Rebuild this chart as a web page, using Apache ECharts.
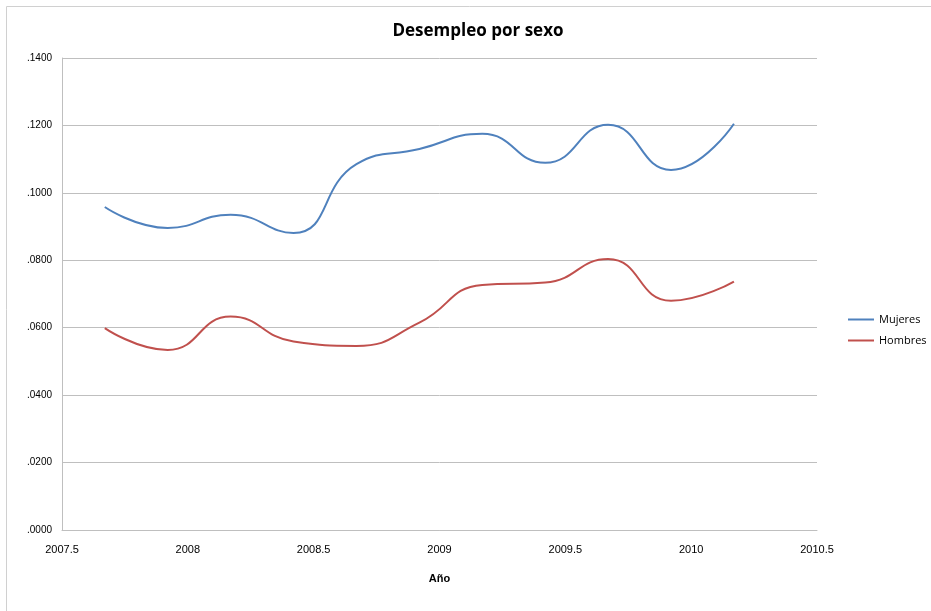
<!DOCTYPE html>
<html>
<head>
<meta charset="utf-8">
<script src="https://cdn.jsdelivr.net/npm/echarts@6/dist/echarts.min.js"></script>
<style>
  html, body { margin: 0; padding: 0; background: #fff; }
  #chart { width: 931px; height: 611px; }
</style>
</head>
<body>
<div id="chart"></div>
<script>
// periodos (año decimal, trimestral)
var anios = [2007.67, 2007.92, 2008.17, 2008.42, 2008.67, 2008.92, 2009.17, 2009.42, 2009.67, 2009.92, 2010.17];
var mujeres = [0.0958, 0.0896, 0.0935, 0.0881, 0.1085, 0.1130, 0.1175, 0.1089, 0.1202, 0.1068, 0.1205];
var hombres = [0.0599, 0.0534, 0.0633, 0.0559, 0.0546, 0.0615, 0.0727, 0.0734, 0.0804, 0.0680, 0.0737];

function pares(xs, ys) {
    var out = [];
    for (var i = 0; i < xs.length; i++) out.push([xs[i], ys[i]]);
    return out;
}

var chart = echarts.init(document.getElementById('chart'));
var fuente = 'Liberation Sans Narrow, Liberation Sans, Arial, sans-serif';

chart.setOption({
    animation: false,
    textStyle: { fontFamily: fuente },
    graphic: [{
        type: 'rect',
        shape: { x: 6.5, y: 6.5, width: 960, height: 640 },
        style: { fill: 'none', stroke: '#d0d0d0', lineWidth: 1 }
    }],
    title: {
        text: 'Desempleo por sexo',
        left: 473,
        top: 18,
        textAlign: 'center',
        textStyle: { fontFamily: 'Open Sans, sans-serif', fontSize: 17, fontWeight: 'bold', color: '#000' }
    },
    legend: {
        orient: 'vertical',
        left: 843,
        top: 309,
        itemWidth: 26,
        itemHeight: 2,
        itemGap: 10,
        icon: 'rect',
        textStyle: { fontSize: 11, color: '#000', fontFamily: 'Open Sans, sans-serif' },
        data: ['Mujeres', 'Hombres']
    },
    grid: { left: 62, right: 114, top: 58, bottom: 81 },
    xAxis: {
        type: 'value',
        min: 2007.5,
        max: 2010.5,
        interval: 0.5,
        name: 'Año',
        nameLocation: 'middle',
        nameGap: 43,
        nameTextStyle: { fontSize: 11, fontWeight: 'bold', color: '#000' },
        axisLine: { lineStyle: { color: '#bfbfbf' } },
        axisTick: { show: false },
        axisLabel: {
            fontSize: 11,
            color: '#000',
            margin: 14,
            formatter: function (v) { return String(v); }
        },
        splitLine: { show: false }
    },
    yAxis: {
        type: 'value',
        min: 0,
        max: 0.14,
        interval: 0.02,
        axisLine: { show: true, lineStyle: { color: '#bfbfbf' } },
        axisTick: { show: false },
        axisLabel: {
            fontSize: 10,
            color: '#000',
            margin: 10,
            formatter: function (v) { return v.toFixed(4).slice(1); }
        },
        splitLine: { lineStyle: { color: '#bfbfbf' } }
    },
    series: [{
        name: 'Mujeres',
        type: 'line',
        smooth: 0.5,
        showSymbol: false,
        symbol: 'none',
        lineStyle: { color: '#4f81bd', width: 2 },
        itemStyle: { color: '#4f81bd' },
        data: pares(anios, mujeres)
    }, {
        name: 'Hombres',
        type: 'line',
        smooth: 0.5,
        showSymbol: false,
        symbol: 'none',
        lineStyle: { color: '#c0504d', width: 2 },
        itemStyle: { color: '#c0504d' },
        data: pares(anios, hombres)
    }]
});
</script>
</body>
</html>
